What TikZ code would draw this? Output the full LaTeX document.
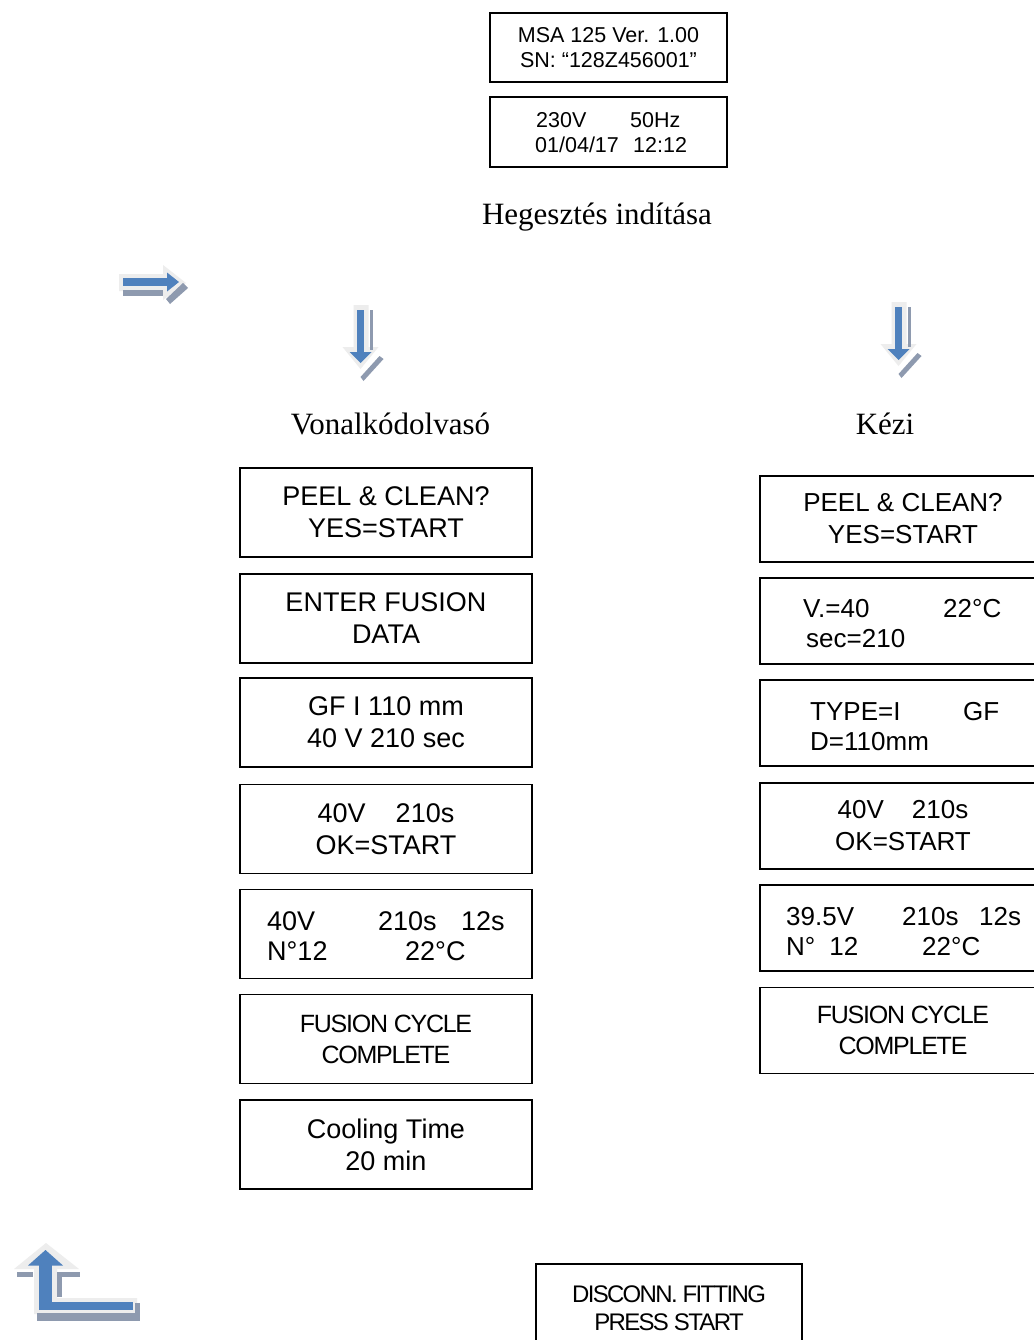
\documentclass[tikz,border=0pt]{standalone}
\usepackage{fontspec}
\setmainfont{Liberation Serif}
\newfontfamily\arial{Liberation Sans}
\newfontfamily\arialtight{Liberation Sans}[LetterSpace=-5]
\newfontfamily\arialtighter{Liberation Sans}[LetterSpace=-7]
\definecolor{arrblue}{HTML}{4F81BD}
\definecolor{arrshadow}{HTML}{8E9AAF}
\definecolor{arrlight}{HTML}{EDEDED}
\tikzset{
  lcdbox/.style={draw, line width=1.2pt, rectangle, inner sep=0pt, align=center},
  topbox/.style={lcdbox, minimum width=237pt, minimum height=69pt, font=\arial\fontsize{21.5}{25}\selectfont},
  lbox/.style={lcdbox, minimum width=292pt, minimum height=89pt, font=\arial\fontsize{27}{32}\selectfont},
  rbox/.style={lcdbox, minimum width=286pt, minimum height=86pt, font=\arial\fontsize{26}{32}\selectfont},
  ltxt/.style={inner sep=0pt, anchor=base west, font=\arial\fontsize{27}{32}\selectfont},
  rtxt/.style={inner sep=0pt, anchor=base west, font=\arial\fontsize{26}{32}\selectfont},
  ttxt/.style={inner sep=0pt, anchor=base west, font=\arial\fontsize{21.5}{25}\selectfont},
  tight/.style={font=\arialtight\fontsize{25}{31}\selectfont},
  serif/.style={inner sep=0pt, anchor=base, font=\fontsize{31}{36}\selectfont},
  downarr/.pic={
    \fill[arrlight] (-7,-5) -- (8,-5) -- (8,37) -- (18,37) -- (0,59) -- (-18,37) -- (-7,37) -- cycle;
    \fill[arrshadow] (9.5,0) rectangle (12.5,40);
    \fill[arrshadow] (19,46) -- (23,49) -- (3,71) -- (0,67) -- cycle;
    \fill[arrblue] (-3.5,0) rectangle (3.5,43);
    \fill[arrblue] (-11,42) -- (11,42) -- (0,53) -- cycle;
  }
}
\begin{document}
\begin{tikzpicture}[x=1pt,y=-1pt]
\useasboundingbox (0,0) rectangle (1033,1340);
\fill[white] (0,0) rectangle (1033,1340);

% top boxes
\node[topbox] (t1) at (608.5,47.5) {MSA 125 Ver. 1.00\\SN: “128Z456001”};
\node[topbox, minimum height=70pt] (t2) at (608.5,132) {};
\node[ttxt] (t2a) at (536,128) {230V};
\node[ttxt] (t2b) at (630,128) {50Hz};
\node[ttxt] (t2c) at (535,153) {01/04/17};
\node[ttxt] (t2d) at (633,153) {12:12};

% headings
\node[serif] (head) at (597,225) {Hegesztés indítása};
\node[serif] (lhead) at (390.5,434) {Vonalkódolvasó};
\node[serif] (rhead) at (885,434) {Kézi};

% right arrow
\fill[arrlight] (119,274) -- (163,274) -- (163,265) -- (186,283) -- (163,300) -- (163,291) -- (119,291) -- cycle;
\fill[arrshadow] (123,290) rectangle (163,295.5);
\fill[arrshadow] (183,283) -- (188,288) -- (170,304) -- (166,299) -- cycle;
\fill[arrblue] (123,277.5) rectangle (168,286);
\fill[arrblue] (167,272.5) -- (179,282) -- (167,291.5) -- cycle;

% down arrows
\pic at (360.5,310) {downarr};
\pic at (898.5,307) {downarr};

% left column
\node[lbox] (l1) at (386,512.5) {PEEL \& CLEAN?\\YES=START};
\node[lbox] (l2) at (386,618.5) {ENTER FUSION\\DATA};
\node[lbox] (l3) at (386,722.5) {GF I 110 mm\\40 V 210 sec};
\node[lbox] (l4) at (386,829) {40V\hspace{30pt}210s\\OK=START};
\node[lbox] (l5) at (386,934) {};
\node[ltxt] (l5a) at (267,930) {40V};
\node[ltxt] (l5b) at (378,930) {210s};
\node[ltxt] (l5c) at (461,930) {12s};
\node[ltxt] (l5d) at (267,960) {N°12};
\node[ltxt] (l5e) at (405,960) {22°C};
\node[lbox, tight] (l6) at (386,1039) {FUSION CYCLE\\COMPLETE};
\node[lbox] (l7) at (386,1144.5) {Cooling Time\\20 min};

% right column
\node[rbox] (r1) at (903,519) {PEEL \& CLEAN?\\YES=START};
\node[rbox] (r2) at (903,621) {};
\node[rtxt] (r2a) at (803,617) {V.=40};
\node[rtxt] (r2b) at (943,617) {22°C};
\node[rtxt] (r2c) at (806,647) {sec=210};
\node[rbox] (r3) at (903,723) {};
\node[rtxt] (r3a) at (810,720) {TYPE=I};
\node[rtxt] (r3b) at (963,720) {GF};
\node[rtxt] (r3c) at (810,750) {D=110mm};
\node[rbox] (r4) at (903,826) {40V\hspace{28pt}210s\\OK=START};
\node[rbox] (r5) at (903,928) {};
\node[rtxt] (r5a) at (786,925) {39.5V};
\node[rtxt] (r5b) at (902,925) {210s};
\node[rtxt] (r5c) at (979,925) {12s};
\node[rtxt] (r5d) at (786,955) {N°\hspace{14pt}12};
\node[rtxt] (r5e) at (922,955) {22°C};
\node[rbox, tight] (r6) at (903,1030.5) {FUSION CYCLE\\COMPLETE};

% return arrow
\fill[arrlight] (14,1269) -- (46,1243) -- (79,1269) -- (57,1269) -- (57,1298) -- (137,1298) -- (137,1314) -- (34,1314) -- (34,1269) -- cycle;
\fill[arrshadow] (37,1313) rectangle (140,1321);
\fill[arrshadow] (135,1303) rectangle (140,1321);
\fill[arrshadow] (17,1272) rectangle (33,1277);
\fill[arrshadow] (57,1272) rectangle (80,1277);
\fill[arrshadow] (57,1272) rectangle (62,1297);
\fill[arrblue] (38.5,1264) rectangle (52,1310);
\fill[arrblue] (38.5,1302) rectangle (133,1310);
\fill[arrblue] (28,1265.5) -- (45.5,1250) -- (63,1265.5) -- cycle;

% last box
\node[lcdbox, minimum width=266pt, minimum height=88pt, font=\arialtighter\fontsize{24}{28}\selectfont] (d1) at (669,1308) {DISCONN. FITTING\\PRESS START};
\end{tikzpicture}
\end{document}
